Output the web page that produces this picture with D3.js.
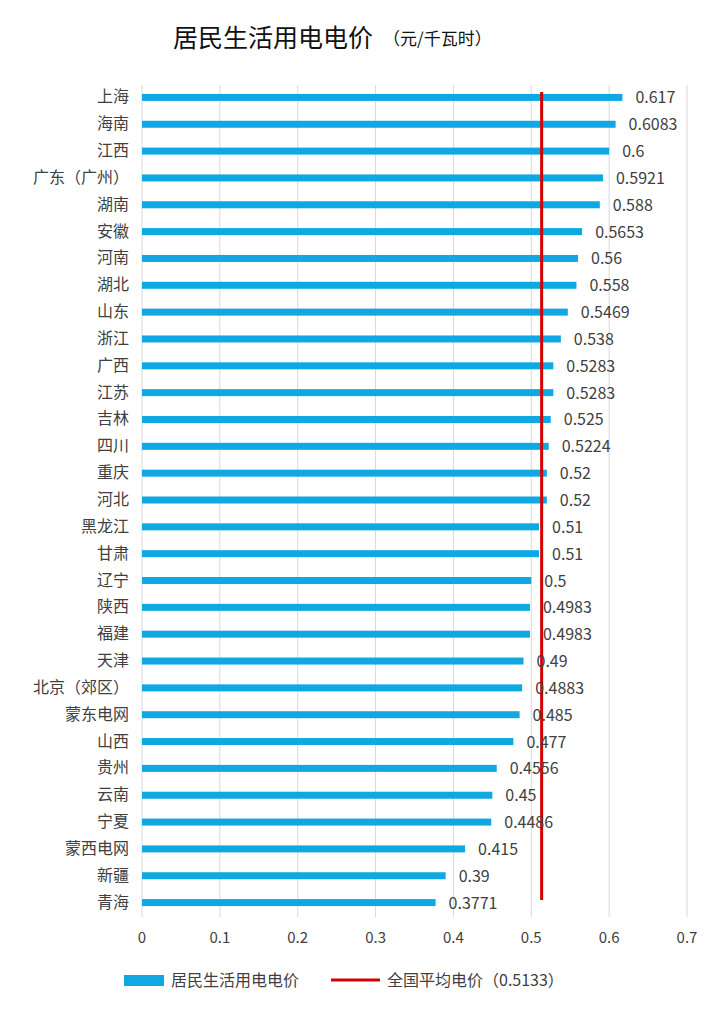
<!DOCTYPE html>
<html><head><meta charset="utf-8">
<script src="https://cdn.jsdelivr.net/npm/d3@7"></script>
<style>body{margin:0;background:#fff;font-family:"Noto Sans CJK SC","Noto Sans",sans-serif;}</style>
</head><body><div id="chart"></div>
<script>
var provinces = ["上海","海南","江西","广东（广州）","湖南","安徽","河南","湖北","山东","浙江","广西","江苏","吉林","四川","重庆","河北","黑龙江","甘肃","辽宁","陕西","福建","天津","北京（郊区）","蒙东电网","山西","贵州","云南","宁夏","蒙西电网","新疆","青海"];
var prices = [0.617,0.6083,0.6,0.5921,0.588,0.5653,0.56,0.558,0.5469,0.538,0.5283,0.5283,0.525,0.5224,0.52,0.52,0.51,0.51,0.5,0.4983,0.4983,0.49,0.4883,0.485,0.477,0.4556,0.45,0.4486,0.415,0.39,0.3771];
var nationalAvg = 0.5133;
var xTicks = [0,0.1,0.2,0.3,0.4,0.5,0.6,0.7];

var width = 713, height = 1013;
var svg = d3.select("#chart").append("svg").attr("width", width).attr("height", height);
var x = d3.scaleLinear().domain([0,0.7]).range([142,687]);
var y = d3.scaleBand().domain(provinces).range([84,916]);

svg.append("text").attr("x",173).attr("y",47).attr("font-size",25).attr("fill","#111")
    .text("居民生活用电电价");
svg.append("text").attr("x",383).attr("y",45).attr("font-size",17).attr("fill","#111")
    .text("（元/千瓦时）");

svg.selectAll("line.grid").data(xTicks).enter().append("line")
    .attr("class","grid")
    .attr("x1",function(d){return x(d)}).attr("x2",function(d){return x(d)})
    .attr("y1",85).attr("y2",917)
    .attr("stroke","#d9d9d9").attr("stroke-width",1);

svg.selectAll("rect.bar").data(prices).enter().append("rect")
    .attr("class","bar")
    .attr("x",x(0))
    .attr("y",function(d,i){return y(provinces[i])+y.bandwidth()/2-3.5})
    .attr("width",function(d){return x(d)-x(0)})
    .attr("height",7)
    .attr("fill","#0fa8e2");

svg.append("line")
    .attr("x1",x(nationalAvg)).attr("x2",x(nationalAvg))
    .attr("y1",92).attr("y2",900)
    .attr("stroke","#d40000").attr("stroke-width",3);

svg.selectAll("text.val").data(prices).enter().append("text")
    .attr("class","val")
    .attr("x",function(d){return x(d)+13})
    .attr("y",function(d,i){return y(provinces[i])+y.bandwidth()/2+6})
    .attr("font-size",16).attr("fill","#404040")
    .text(function(d){return d});

svg.selectAll("text.cat").data(provinces).enter().append("text")
    .attr("class","cat")
    .attr("x",129).attr("text-anchor","end")
    .attr("y",function(d){return y(d)+y.bandwidth()/2+5})
    .attr("font-size",16).attr("fill","#404040")
    .text(function(d){return d});

svg.selectAll("text.tick").data(xTicks).enter().append("text")
    .attr("class","tick")
    .attr("x",function(d){return x(d)}).attr("y",943)
    .attr("text-anchor","middle").attr("font-size",15).attr("fill","#404040")
    .text(function(d){return d});

// legend
svg.append("rect").attr("x",124).attr("y",975).attr("width",40).attr("height",11).attr("fill","#0fa8e2");
svg.append("text").attr("x",171).attr("y",986).attr("font-size",16).attr("fill","#404040").text("居民生活用电电价");
svg.append("line").attr("x1",331).attr("x2",380).attr("y1",980).attr("y2",980).attr("stroke","#d40000").attr("stroke-width",3);
svg.append("text").attr("x",387).attr("y",986).attr("font-size",16).attr("fill","#404040").text("全国平均电价（0.5133）");
</script></body></html>
